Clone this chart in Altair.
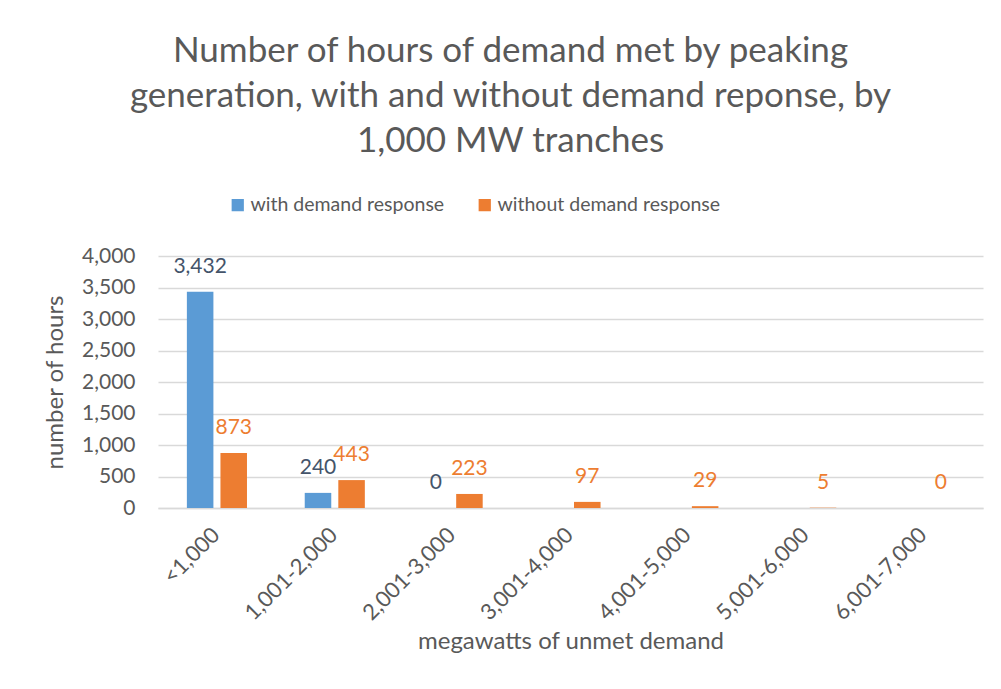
import altair as alt
import pandas as pd

categories = ["<1,000", "1,001-2,000", "2,001-3,000", "3,001-4,000",
              "4,001-5,000", "5,001-6,000", "6,001-7,000"]
with_dr = [3432, 240, 0, None, None, None, None]
without_dr = [873, 443, 223, 97, 29, 5, 0]
series_names = ["with demand response", "without demand response"]
series_colors = ["#5B9BD5", "#ED7D31"]
label_colors = ["#44546A", "#ED7D31"]
y_ticks = [0, 500, 1000, 1500, 2000, 2500, 3000, 3500, 4000]

rows = []
for c, a, b in zip(categories, with_dr, without_dr):
    if a is not None:
        rows.append({"cat": c, "series": series_names[0], "value": a})
    if b is not None:
        rows.append({"cat": c, "series": series_names[1], "value": b})
df = pd.DataFrame(rows)

FONT = "Lato"
GREY = "#595959"

x_enc = alt.X("cat:N", sort=categories,
              scale=alt.Scale(paddingInner=0.49, paddingOuter=0.245),
              axis=alt.Axis(title="megawatts of unmet demand", labelAngle=-45,
                            labelFontSize=22, labelColor=GREY, labelFont=FONT,
                            titleFontSize=24, titleColor=GREY, titleFont=FONT,
                            titleFontWeight="normal", titleY=133, titleBaseline="middle",
                            ticks=False, labelPadding=16, labelOffset=-8,
                            domainColor="#D9D9D9", domainWidth=1.5))
xoff_enc = alt.XOffset("series:N", sort=series_names,
                       scale=alt.Scale(domain=series_names, paddingInner=0.21, paddingOuter=0))
y_enc = alt.Y("value:Q",
              scale=alt.Scale(domain=[0, 4000], nice=False),
              axis=alt.Axis(title="number of hours", values=y_ticks, format=",.0f",
                            labelFontSize=21, labelColor=GREY, labelFont=FONT,
                            titleFontSize=24, titleColor=GREY, titleFont=FONT,
                            titleFontWeight="normal", titlePadding=14,
                            ticks=False, domain=False, labelPadding=23,
                            gridColor="#D9D9D9", gridWidth=1.5))

bars = alt.Chart(df).mark_bar().encode(
    x=x_enc,
    xOffset=xoff_enc,
    y=y_enc,
    color=alt.Color("series:N", sort=series_names,
                    scale=alt.Scale(domain=series_names, range=series_colors),
                    legend=alt.Legend(title=None, orient="none", direction="horizontal",
                                      legendX=70, legendY=-61, labelLimit=0,
                                      labelFont=FONT, labelFontSize=19.5, labelColor=GREY,
                                      symbolType="square", symbolSize=150,
                                      symbolStrokeWidth=0, columnPadding=30,
                                      labelOffset=3)),
)

labels = alt.Chart(df).mark_text(font=FONT, fontSize=21, dy=-25, baseline="middle").encode(
    x=x_enc,
    xOffset=xoff_enc,
    y=y_enc,
    text=alt.Text("value:Q", format=","),
    color=alt.condition(alt.datum.series == series_names[0],
                        alt.value(label_colors[0]), alt.value(label_colors[1])),
)

chart = alt.layer(bars, labels).properties(
    width=825, height=252,
    title=alt.TitleParams(
        text=["Number of hours of demand met by peaking",
              "generation, with and without demand reponse, by",
              "1,000 MW tranches"],
        font=FONT, fontSize=35, fontWeight="normal", color=GREY,
        lineHeight=45, anchor="middle", dx=-60, offset=36),
    autosize=alt.AutoSizeParams(type="none"),
    padding={"left": 150, "top": 248, "right": 10, "bottom": 173},
    background="white",
).configure_view(stroke=None)

chart.save("out.html", embed_options={"renderer": "svg", "actions": False})
